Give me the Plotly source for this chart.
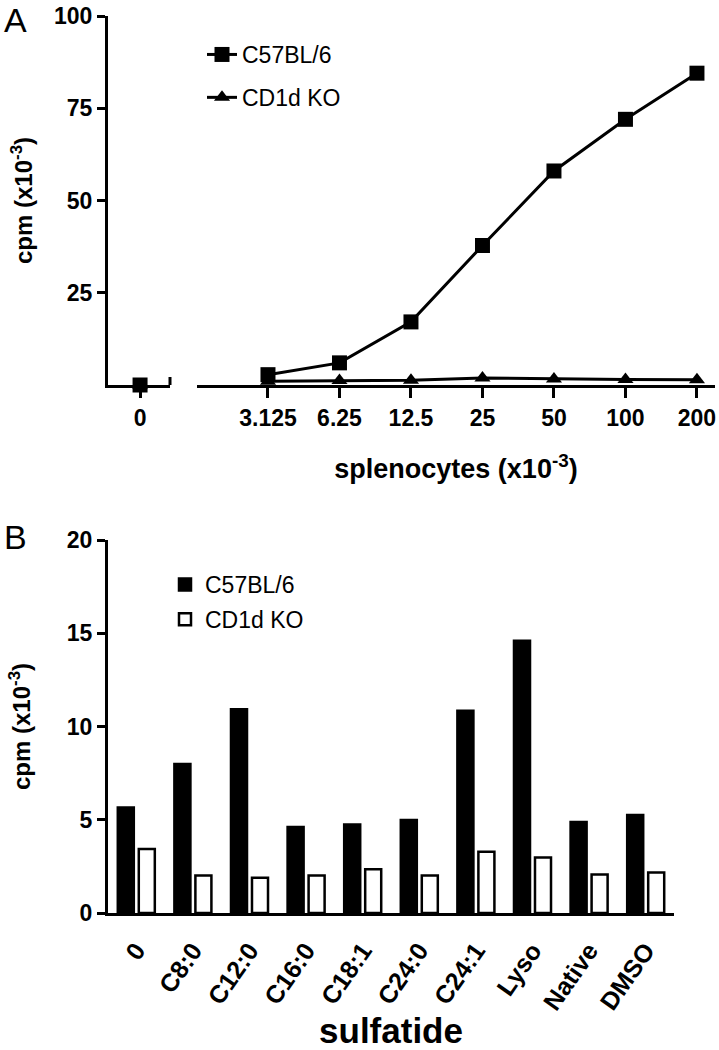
import plotly.graph_objects as go

FONT = "Liberation Sans"

# ---------------- Panel A data ----------------
dose_zero = [0]
dose_zero_labels = ["0"]
doses = [3.125, 6.25, 12.5, 25, 50, 100, 200]
dose_labels = ["3.125", "6.25", "12.5", "25", "50", "100", "200"]
c57_zero = [0.0]
ko_zero = [0.0]
c57_cpm = [2.8, 6.0, 17.1, 37.8, 58.0, 72.0, 84.5]
ko_cpm = [1.0, 1.2, 1.3, 1.9, 1.6, 1.5, 1.4]
a_yticks = [25, 50, 75, 100]

# ---------------- Panel B data ----------------
sulfatides = ["0", "C8:0", "C12:0", "C16:0", "C18:1", "C24:0", "C24:1", "Lyso", "Native", "DMSO"]
c57_b = [5.66, 7.99, 10.93, 4.61, 4.75, 4.98, 10.84, 14.6, 4.88, 5.25]
ko_b = [3.43, 2.01, 1.89, 2.01, 2.35, 2.01, 3.29, 2.97, 2.06, 2.17]
b_yticks = [0, 5, 10, 15, 20]

W, H = 719, 1050


def px_x(p):
    return p / W


def px_y(p):
    return 1 - p / H


bold = dict(family=FONT, size=23, color="black", weight="bold")
title_font = dict(family=FONT, size=24, color="black", weight="bold")

fig = go.Figure()

# Panel A: zero dose (left broken segment)
fig.add_trace(go.Scatter(x=dose_zero, y=ko_zero, xaxis="x", yaxis="y", mode="markers",
                         marker=dict(symbol="triangle-up", size=14, color="black"),
                         showlegend=False, cliponaxis=False))
fig.add_trace(go.Scatter(x=dose_zero, y=c57_zero, xaxis="x", yaxis="y", mode="markers",
                         marker=dict(symbol="square", size=15, color="black"),
                         showlegend=False, cliponaxis=False))
# Panel A: titration (right segment)
fig.add_trace(go.Scatter(x=doses, y=c57_cpm, xaxis="x2", yaxis="y", mode="lines+markers",
                         name="C57BL/6", legend="legend", legendgroup="a1",
                         line=dict(color="black", width=3),
                         marker=dict(symbol="square", size=15, color="black"),
                         cliponaxis=False))
fig.add_trace(go.Scatter(x=doses, y=ko_cpm, xaxis="x2", yaxis="y", mode="lines+markers",
                         name="CD1d KO", legend="legend", legendgroup="a2",
                         line=dict(color="black", width=3),
                         marker=dict(symbol="triangle-up", size=14, color="black"),
                         cliponaxis=False))

# Panel B bars
fig.add_trace(go.Bar(x=sulfatides, y=c57_b, xaxis="x3", yaxis="y2", name="C57BL/6",
                     legend="legend2", legendgroup="b1",
                     marker=dict(color="black", line=dict(color="black", width=2.5))))
fig.add_trace(go.Bar(x=sulfatides, y=ko_b, xaxis="x3", yaxis="y2", name="CD1d KO",
                     legend="legend2", legendgroup="b2",
                     marker=dict(color="white", line=dict(color="black", width=2.5))))

axis_common = dict(showgrid=False, zeroline=False, showline=True, linecolor="black",
                   linewidth=3, tickcolor="black", tickwidth=3, automargin=False)

fig.update_layout(
    width=W, height=H,
    margin=dict(l=0, r=0, t=0, b=0, pad=0, autoexpand=False),
    paper_bgcolor="white", plot_bgcolor="white",
    font=dict(family=FONT, color="black"),
    barmode="group", bargap=0.258, bargroupgap=0.237,
    xaxis=dict(domain=[px_x(108), px_x(170)], range=[-1.07, 1], anchor="y",
               tickmode="array", tickvals=dose_zero, ticktext=dose_zero_labels,
               ticks="outside", ticklen=10, tickfont=bold, **axis_common),
    xaxis2=dict(domain=[px_x(197), px_x(715)], type="log", range=[0.196, 2.377], anchor="y",
                tickmode="array", tickvals=doses, ticktext=dose_labels,
                ticks="outside", ticklen=10, tickfont=bold,
                title=dict(text="splenocytes (x10<sup>-3</sup>)", standoff=30,
                           font=dict(family=FONT, size=27, color="black", weight="bold")),
                **axis_common),
    yaxis=dict(domain=[px_y(385), px_y(16)], range=[0, 100], anchor="x",
               tickmode="array", tickvals=a_yticks, ticks="outside", ticklen=8, tickfont=bold,
               title=dict(text="cpm (x10<sup>-3</sup>)", standoff=15, font=title_font),
               **axis_common),
    xaxis3=dict(domain=[px_x(108), px_x(674)], anchor="y2", type="category",
                ticks="", tickangle=-55, ticklabelstandoff=10,
                tickfont=dict(family=FONT, size=25, color="black", weight="bold"),
                title=dict(text="sulfatide", standoff=34,
                           font=dict(family=FONT, size=35, color="black", weight="bold")),
                **axis_common),
    yaxis2=dict(domain=[px_y(913), px_y(540)], range=[0, 20], anchor="x3",
                tickmode="array", tickvals=b_yticks, ticks="outside", ticklen=8, tickfont=bold,
                title=dict(text="cpm (x10<sup>-3</sup>)", standoff=30, font=title_font),
                **axis_common),
    legend=dict(x=px_x(202), y=px_y(33), xanchor="left", yanchor="top",
                bgcolor="rgba(0,0,0,0)", borderwidth=0, tracegroupgap=10,
                font=dict(family=FONT, size=23, color="black")),
    legend2=dict(x=px_x(165), y=px_y(563), xanchor="left", yanchor="top",
                 bgcolor="rgba(0,0,0,0)", borderwidth=0, tracegroupgap=2,
                 font=dict(family=FONT, size=23, color="black")),
    shapes=[
        dict(type="line", xref="x domain", x0=1, x1=1, yref="y", ysizemode="pixel",
             yanchor=0, y0=-8, y1=8, line=dict(color="black", width=3)),
        dict(type="line", xref="x2 domain", x0=0, x1=0, yref="y", ysizemode="pixel",
             yanchor=0, y0=-10, y1=0, line=dict(color="black", width=3)),
    ],
    annotations=[
        dict(text="A", xref="paper", yref="paper", x=px_x(2), y=px_y(20), xanchor="left",
             yanchor="middle", showarrow=False, font=dict(family=FONT, size=34, color="black")),
        dict(text="B", xref="paper", yref="paper", x=px_x(2), y=px_y(537), xanchor="left",
             yanchor="middle", showarrow=False, font=dict(family=FONT, size=34, color="black")),
    ],
)

fig.write_html("out.html", config={"displayModeBar": False},
               post_script="document.body.style.margin='0';")
